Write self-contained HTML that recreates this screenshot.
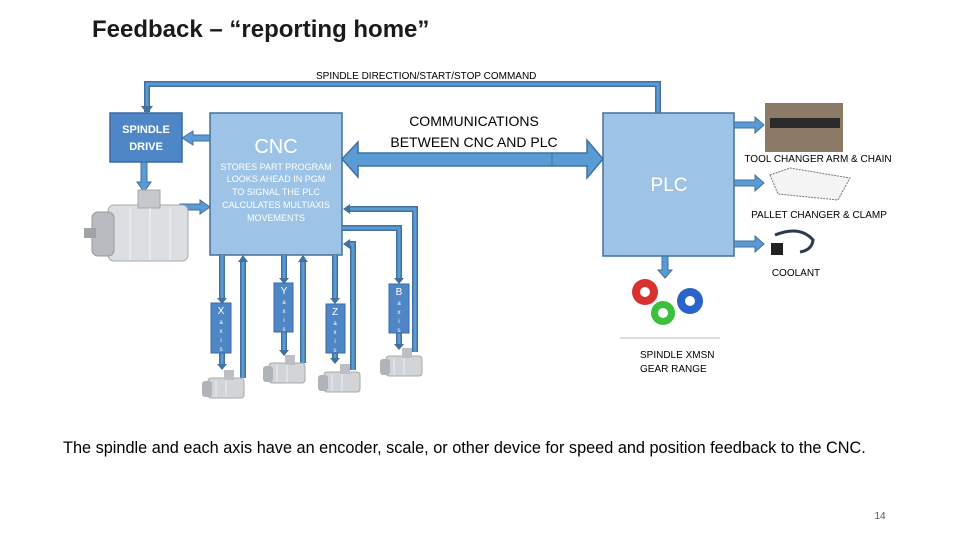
<!DOCTYPE html>
<html><head><meta charset="utf-8"><style>
html,body{margin:0;padding:0;background:#fff;}
svg{display:block;font-family:"Liberation Sans",sans-serif;}
</style></head><body>
<svg width="960" height="540" viewBox="0 0 960 540" xmlns="http://www.w3.org/2000/svg">
<defs>
<g id="motor">
 <rect x="6" y="8" width="36" height="20" rx="3" fill="#d2d5d8" stroke="#a4a8ad"/>
 <rect x="0" y="11" width="10" height="16" rx="3" fill="#b0b4b8"/>
 <rect x="22" y="0" width="10" height="10" fill="#bcbfc3"/>
 <line x1="14" y1="10" x2="14" y2="27" stroke="#eceef0"/>
 <line x1="24" y1="10" x2="24" y2="27" stroke="#eceef0"/>
</g>
</defs>

<text x="92" y="37" font-size="24" font-weight="bold" fill="#1a1a1a">Feedback – “reporting home”</text>
<text x="316" y="79" font-size="10" fill="#000">SPINDLE DIRECTION/START/STOP COMMAND</text>

<g fill="none" stroke-linejoin="miter">
<path d="M658,113 V84 H147 V112" stroke="#41719c" stroke-width="6"/>
<path d="M658,113 V84 H147 V108" stroke="#5b9bd5" stroke-width="3"/>
</g>
<path d="M141,106 H153 L147,114 Z" fill="#41719c"/>

<rect x="110" y="113" width="72" height="49" fill="#4f86c6" stroke="#3a6aa5" stroke-width="1.5"/>
<text x="146" y="133" font-size="11" font-weight="bold" fill="#fff" text-anchor="middle">SPINDLE</text>
<text x="146" y="150" font-size="11" font-weight="bold" fill="#fff" text-anchor="middle">DRIVE</text>

<rect x="210" y="113" width="132" height="142" fill="#9dc3e6" stroke="#41719c" stroke-width="1.5"/>
<text x="276" y="153" font-size="20" fill="#fff" text-anchor="middle">CNC</text>
<g font-size="9" fill="#fff" text-anchor="middle">
<text x="276" y="170">STORES PART PROGRAM</text>
<text x="276" y="182">LOOKS AHEAD IN PGM</text>
<text x="276" y="195">TO SIGNAL THE PLC</text>
<text x="276" y="208">CALCULATES MULTIAXIS</text>
<text x="276" y="221">MOVEMENTS</text>
</g>

<path d="M210,135 H193 V131 L182,138 L193,145 V141 H210 Z" fill="#5b9bd5" stroke="#41719c"/>
<path d="M141,162 V182 H137 L144,192 L151,182 H147 V162 Z" fill="#5b9bd5" stroke="#41719c"/>
<path d="M180,204 H200 V200 L210,207 L200,214 V210 H180 Z" fill="#5b9bd5" stroke="#41719c"/>

<g>
 <rect x="108" y="205" width="80" height="56" rx="6" fill="#dcdfe2" stroke="#a4a8ad"/>
 <rect x="92" y="212" width="22" height="44" rx="6" fill="#b8bcc0" stroke="#959a9f"/>
 <rect x="84" y="228" width="12" height="10" fill="#a0a4a9"/>
 <rect x="138" y="190" width="22" height="18" fill="#c6c9cc" stroke="#a4a8ad"/>
 <line x1="130" y1="208" x2="130" y2="260" stroke="#f2f3f4"/>
 <line x1="150" y1="208" x2="150" y2="260" stroke="#f2f3f4"/>
 <line x1="170" y1="208" x2="170" y2="260" stroke="#f2f3f4"/>
</g>

<path d="M342,159 L358,142 V153 H587 V140 L603,159 L587,178 V166 H358 V177 Z" fill="#5b9bd5" stroke="#41719c" stroke-width="1.5"/>
<line x1="552" y1="153" x2="552" y2="166" stroke="#41719c"/>
<text x="474" y="126" font-size="14" fill="#000" text-anchor="middle">COMMUNICATIONS</text>
<text x="474" y="147" font-size="14" fill="#000" text-anchor="middle">BETWEEN CNC AND PLC</text>

<rect x="603" y="113" width="131" height="143" fill="#9dc3e6" stroke="#41719c" stroke-width="1.5"/>
<text x="669" y="191" font-size="19" fill="#fff" text-anchor="middle">PLC</text>

<g fill="#5b9bd5" stroke="#41719c">
<path d="M734,122 H755 V117 L764,125 L755,133 V128 H734 Z"/>
<path d="M734,180 H755 V175 L764,183 L755,191 V186 H734 Z"/>
<path d="M734,241 H755 V236 L764,244 L755,252 V247 H734 Z"/>
<path d="M662,256 V270 H658 L665,278 L672,270 H668 V256 Z"/>
</g>
<rect x="765" y="103" width="78" height="49" fill="#8a7a66"/>
<rect x="770" y="118" width="70" height="10" fill="#2a2a2a"/>
<text x="818" y="162" font-size="10" fill="#000" text-anchor="middle">TOOL CHANGER ARM &amp; CHAIN</text>
<path d="M770,175 L790,168 L850,178 L838,200 L778,194 Z" fill="#f4f4f4" stroke="#777" stroke-dasharray="2,1"/>
<text x="819" y="218" font-size="10" fill="#000" text-anchor="middle">PALLET CHANGER &amp; CLAMP</text>
<path d="M775,235 Q800,225 813,240 Q812,250 800,252" fill="none" stroke="#2a3a50" stroke-width="3"/>
<rect x="771" y="243" width="12" height="12" fill="#222"/>
<text x="796" y="276" font-size="10" fill="#000" text-anchor="middle">COOLANT</text>
<circle cx="645" cy="292" r="13" fill="#d93030"/><circle cx="645" cy="292" r="5" fill="#fff"/>
<circle cx="663" cy="313" r="12" fill="#3cbf3c"/><circle cx="663" cy="313" r="5" fill="#fff"/>
<circle cx="690" cy="301" r="13" fill="#2a64c8"/><circle cx="690" cy="301" r="5" fill="#fff"/>
<line x1="620" y1="338" x2="720" y2="338" stroke="#bbb"/>
<text x="640" y="358" font-size="10" fill="#000">SPINDLE XMSN</text>
<text x="640" y="372" font-size="10" fill="#000">GEAR RANGE</text>

<g fill="none">
 <g stroke="#41719c" stroke-width="6">
  <path d="M222,255 V300"/><path d="M222,353 V366"/>
  <path d="M284,255 V280"/><path d="M284,332 V352"/>
  <path d="M335,255 V300"/><path d="M335,353 V360"/>
  <path d="M342,228 H399 V280"/><path d="M399,333 V346"/>
  <path d="M243,378 V262"/><path d="M303,363 V262"/>
  <path d="M353,370 V244 H349"/><path d="M415,352 V209 H349"/>
 </g>
 <g stroke="#5b9bd5" stroke-width="3">
  <path d="M222,255 V300"/><path d="M222,353 V366"/>
  <path d="M284,255 V280"/><path d="M284,332 V352"/>
  <path d="M335,255 V300"/><path d="M335,353 V360"/>
  <path d="M342,228 H399 V280"/><path d="M399,333 V346"/>
  <path d="M243,378 V262"/><path d="M303,363 V262"/>
  <path d="M353,370 V244 H349"/><path d="M415,352 V209 H349"/>
 </g>
</g>
<g fill="#41719c">
 <path d="M217,298 H227 L222,304 Z"/><path d="M217,364 H227 L222,370 Z"/>
 <path d="M279,278 H289 L284,284 Z"/><path d="M279,350 H289 L284,356 Z"/>
 <path d="M330,298 H340 L335,304 Z"/><path d="M330,358 H340 L335,364 Z"/>
 <path d="M394,278 H404 L399,284 Z"/><path d="M394,344 H404 L399,350 Z"/>
 <path d="M238,262 H248 L243,255 Z"/><path d="M298,262 H308 L303,255 Z"/>
 <path d="M350,239 V249 L343,244 Z"/><path d="M350,204 V214 L343,209 Z"/>
</g>
<g fill="#4f86c6" stroke="#3a6aa5">
 <rect x="211" y="303" width="20" height="50"/>
 <rect x="274" y="283" width="19" height="49"/>
 <rect x="326" y="304" width="19" height="49"/>
 <rect x="389" y="284" width="20" height="49"/>
</g>
<g fill="#fff" text-anchor="middle" font-size="6">
 <text x="221" y="314" font-size="10">X</text><text x="221" y="324">a</text><text x="221" y="333">x</text><text x="221" y="342">i</text><text x="221" y="351">s</text>
 <text x="284" y="294" font-size="10">Y</text><text x="284" y="304">a</text><text x="284" y="313">x</text><text x="284" y="322">i</text><text x="284" y="331">s</text>
 <text x="335" y="315" font-size="10">Z</text><text x="335" y="325">a</text><text x="335" y="334">x</text><text x="335" y="343">i</text><text x="335" y="352">s</text>
 <text x="399" y="295" font-size="10">B</text><text x="399" y="305">a</text><text x="399" y="314">x</text><text x="399" y="323">i</text><text x="399" y="332">s</text>
</g>
<use href="#motor" x="202" y="370"/>
<use href="#motor" x="263" y="355"/>
<use href="#motor" x="318" y="364"/>
<use href="#motor" x="380" y="348"/>

<text x="63" y="453" font-size="16.3" fill="#000">The spindle and each axis have an encoder, scale, or other device for speed and position feedback to the CNC.</text>
<text x="880" y="519" font-size="10" fill="#555" text-anchor="middle">14</text>
</svg>
</body></html>
